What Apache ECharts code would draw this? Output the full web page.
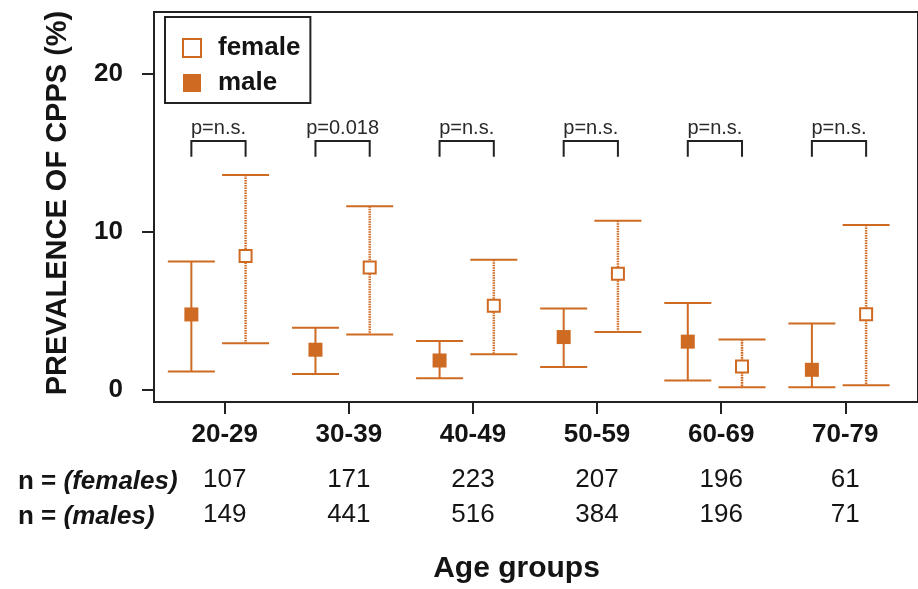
<!DOCTYPE html>
<html>
<head>
<meta charset="utf-8">
<script src="https://cdn.jsdelivr.net/npm/echarts@6.0.0/dist/echarts.min.js"></script>
<style>html,body{margin:0;padding:0;background:#fff}#chart{width:918px;height:589px}</style>
</head>
<body>
<div id="chart"></div>
<script>
// ---- data ----
const categories = ['20-29', '30-39', '40-49', '50-59', '60-69', '70-79'];
const femaleMean = [8.47, 7.74, 5.33, 7.36, 1.49, 4.80];
const femaleLow  = [2.96, 3.52, 2.26, 3.67, 0.17, 0.30];
const femaleHigh = [13.6, 11.62, 8.24, 10.71, 3.19, 10.44];
const maleMean = [4.78, 2.55, 1.87, 3.35, 3.06, 1.28];
const maleLow  = [1.18, 1.02, 0.75, 1.45, 0.61, 0.17];
const maleHigh = [8.13, 3.94, 3.10, 5.16, 5.51, 4.21];
const pLabels = ['p=n.s.', 'p=0.018', 'p=n.s.', 'p=n.s.', 'p=n.s.', 'p=n.s.'];
const nFemales = [107, 171, 223, 207, 196, 61];
const nMales = [149, 441, 516, 384, 196, 71];
const yTicks = [0, 10, 20];

// ---- layout / style constants ----
const ORANGE = '#cf6a22';
const INK = '#141414';
const FONT = 'Liberation Sans, Arial, Helvetica, sans-serif';
const maleOffset = -0.269;
const femaleOffset = 0.168;
const capHalf = 23.5;
const bracketY = 15.75;
const bracketDrop = 1.0;
const pLabelY = 16.55;
const catIdx = categories.map((c, i) => i);

const chart = echarts.init(document.getElementById('chart'), null, {renderer: 'canvas'});

function errRender(mean, low, high, offset, dashed) {
  return function (params, api) {
    const i = api.value(0);
    const top = api.coord([i + offset, high[i]]);
    const bot = api.coord([i + offset, low[i]]);
    const stroke = {stroke: ORANGE, lineWidth: 2};
    return {
      type: 'group',
      children: [
        {type: 'line', shape: {x1: top[0], y1: top[1], x2: bot[0], y2: bot[1]},
         style: Object.assign({}, stroke, dashed ? {lineDash: [1.6, 0.9], lineWidth: 2.5} : {})},
        {type: 'line', shape: {x1: top[0] - capHalf, y1: top[1], x2: top[0] + capHalf, y2: top[1]}, style: stroke},
        {type: 'line', shape: {x1: bot[0] - capHalf, y1: bot[1], x2: bot[0] + capHalf, y2: bot[1]}, style: stroke}
      ]
    };
  };
}

function bracketRender(params, api) {
  const i = api.value(0);
  const l = api.coord([i + maleOffset, bracketY]);
  const r = api.coord([i + femaleOffset, bracketY]);
  const lb = api.coord([i + maleOffset, bracketY - bracketDrop]);
  const lab = api.coord([i + (maleOffset + femaleOffset) / 2, pLabelY]);
  const st = {stroke: '#222', lineWidth: 2, fill: null};
  return {
    type: 'group',
    children: [
      {type: 'polyline', shape: {points: [[l[0], lb[1]], [l[0], l[1]], [r[0], r[1]], [r[0], lb[1]]]}, style: st},
      {type: 'text', x: lab[0], y: lab[1],
       style: {text: pLabels[i], fill: '#2a2a2a', font: '20px ' + FONT, align: 'center', verticalAlign: 'middle'}}
    ]
  };
}

const rowRich = {
  b: {fontSize: 26, fontWeight: 'bold', fill: INK, fontFamily: FONT},
  i: {fontSize: 26, fontWeight: 'bold', fontStyle: 'italic', fill: INK, fontFamily: FONT}
};

const option = {
  animation: false,
  backgroundColor: '#fff',
  grid: {left: 154, top: 12, right: -3, bottom: 185, show: true, borderWidth: 2, borderColor: '#222', backgroundColor: 'transparent'},
  legend: {
    orient: 'vertical', left: 165, top: 17,
    borderColor: '#222', borderWidth: 2,
    padding: [16, 10, 5, 17],
    itemWidth: 18, itemHeight: 18, itemGap: 5, icon: 'rect',
    textStyle: {fontSize: 26, fontWeight: 'bold', color: INK, fontFamily: FONT, lineHeight: 30, padding: [0, 0, 0, 12]},
    data: [
      {name: 'female', itemStyle: {color: '#fff', borderColor: ORANGE, borderWidth: 2}},
      {name: 'male', itemStyle: {color: ORANGE, borderWidth: 0}}
    ]
  },
  xAxis: [
    {
      type: 'value', min: -0.570, max: 5.586,
      axisLine: {show: false, onZero: false}, splitLine: {show: false},
      axisTick: {show: true, customValues: catIdx, length: 12, lineStyle: {color: '#222', width: 2}},
      axisLabel: {customValues: catIdx, formatter: v => categories[Math.round(v)], margin: 20,
                  fontSize: 26, fontWeight: 'bold', color: INK, fontFamily: FONT},
      name: 'Age groups', nameLocation: 'middle', nameGap: 152,
      nameTextStyle: {fontSize: 30, fontWeight: 'bold', color: INK, fontFamily: FONT, padding: [0, 39, 0, 0]}
    },
    {
      type: 'value', min: -0.570, max: 5.586, position: 'bottom',
      axisLine: {show: false, onZero: false}, splitLine: {show: false}, axisTick: {show: false},
      axisLabel: {customValues: catIdx, formatter: v => String(nFemales[Math.round(v)]), margin: 65,
                  fontSize: 26, color: INK, fontFamily: FONT}
    },
    {
      type: 'value', min: -0.570, max: 5.586, position: 'bottom',
      axisLine: {show: false, onZero: false}, splitLine: {show: false}, axisTick: {show: false},
      axisLabel: {customValues: catIdx, formatter: v => String(nMales[Math.round(v)]), margin: 100,
                  fontSize: 26, color: INK, fontFamily: FONT}
    }
  ],
  yAxis: {
    type: 'value', min: -0.755, max: 23.9,
    axisLine: {show: false, onZero: false}, splitLine: {show: false},
    axisTick: {show: true, customValues: yTicks, length: 12, lineStyle: {color: '#222', width: 2}},
    axisLabel: {customValues: yTicks, margin: 31, fontSize: 26, fontWeight: 'bold', color: INK, fontFamily: FONT},
    name: 'PREVALENCE OF CPPS (%)', nameLocation: 'middle', nameGap: 82,
    nameTextStyle: {fontSize: 29, fontWeight: 'bold', color: INK, fontFamily: FONT, padding: [0, 0, 0, 8]}
  },
  graphic: [
    {type: 'text', x: 18, y: 482,
     style: {text: '{b|n = }{i|(females)}', align: 'left', verticalAlign: 'middle', rich: rowRich}},
    {type: 'text', x: 18, y: 517,
     style: {text: '{b|n = }{i|(males)}', align: 'left', verticalAlign: 'middle', rich: rowRich}}
  ],
  series: [
    {type: 'custom', name: 'maleErr', renderItem: errRender(maleMean, maleLow, maleHigh, maleOffset, false),
     data: catIdx.map(i => [i, maleLow[i], maleHigh[i]]), encode: {x: 0, y: [1, 2]}, z: 2, silent: true},
    {type: 'custom', name: 'femaleErr', renderItem: errRender(femaleMean, femaleLow, femaleHigh, femaleOffset, true),
     data: catIdx.map(i => [i, femaleLow[i], femaleHigh[i]]), encode: {x: 0, y: [1, 2]}, z: 2, silent: true},
    {type: 'custom', name: 'brackets', renderItem: bracketRender,
     data: catIdx.map(i => [i, bracketY]), encode: {x: 0, y: 1}, z: 2, silent: true},
    {type: 'scatter', name: 'female', symbol: 'rect', symbolSize: 12, z: 5,
     itemStyle: {color: '#fff', borderColor: ORANGE, borderWidth: 2, opacity: 1},
     data: catIdx.map(i => [i + femaleOffset, femaleMean[i]])},
    {type: 'scatter', name: 'male', symbol: 'rect', symbolSize: 14, z: 5,
     itemStyle: {color: ORANGE, opacity: 1},
     data: catIdx.map(i => [i + maleOffset, maleMean[i]])}
  ]
};
chart.setOption(option);
</script>
</body>
</html>
